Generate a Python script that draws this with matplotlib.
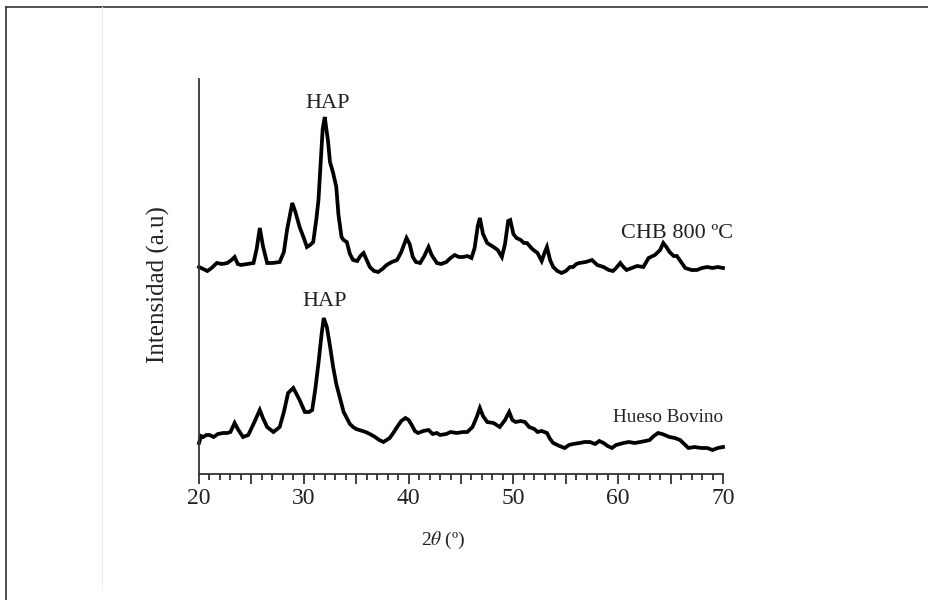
import matplotlib
matplotlib.use('Agg')
import matplotlib.pyplot as plt
from matplotlib.lines import Line2D
from matplotlib.ticker import MultipleLocator, FuncFormatter

plt.rcParams['font.family'] = ['Liberation Serif', 'DejaVu Serif']
plt.rcParams['mathtext.fontset'] = 'stix'

# CHB 800 ºC (curva superior)
chb_x = [20.0, 20.4, 20.8, 21.2, 21.7, 22.2, 22.7, 23.1, 23.4, 23.7, 24.0, 24.6,
         25.2, 25.5, 25.8, 26.1, 26.5, 27.0, 27.7, 28.1, 28.4, 28.9, 29.2, 29.6,
         30.0, 30.3, 30.6, 30.9, 31.2, 31.4, 31.6, 31.8, 32.0, 32.15, 32.3, 32.5,
         32.8, 33.1, 33.3, 33.6, 33.8, 34.1, 34.4, 34.7, 35.1, 35.4, 35.7, 36.0,
         36.3, 36.7, 37.1, 37.5, 37.9, 38.4, 38.9, 39.3, 39.8, 40.1, 40.4, 40.7,
         41.1, 41.5, 41.9, 42.2, 42.7, 43.1, 43.6, 44.0, 44.4, 44.8, 45.2, 45.6,
         46.0, 46.3, 46.6, 46.8, 47.1, 47.5, 47.8, 48.1, 48.5, 48.9, 49.2, 49.5,
         49.7, 50.0, 50.3, 50.7, 51.0, 51.3, 51.8, 52.3, 52.7, 53.0, 53.2, 53.5,
         53.8, 54.2, 54.6, 55.0, 55.4, 55.7, 56.0, 56.3, 56.9, 57.5, 58.0, 58.6,
         59.1, 59.5, 59.8, 60.2, 60.5, 60.8, 61.3, 61.8, 62.4, 62.9, 63.5, 64.0,
         64.3, 64.6, 64.9, 65.3, 65.6, 66.0, 66.4, 67.0, 67.5, 68.0, 68.5, 69.0,
         69.5, 70.0]
chb_y = [207, 205, 203, 206, 211, 210, 211, 214, 217, 210, 209, 210,
         211, 225, 246, 228, 211, 211, 212, 222, 244, 271, 262, 247,
         236, 227, 229, 232, 255, 274, 310, 345, 357, 345, 334, 312,
         301, 287, 260, 237, 234, 232, 220, 214, 213, 218, 221, 214,
         207, 203, 202, 205, 209, 212, 214, 222, 236, 230, 217, 212,
         211, 218, 227, 219, 211, 210, 212, 216, 219, 217, 217, 218,
         216, 226, 248, 256, 240, 231, 229, 227, 224, 217, 230, 253,
         254, 240, 236, 234, 231, 231, 225, 221, 213, 222, 227, 214,
         207, 203, 201, 203, 207, 207, 210, 211, 212, 214, 209, 207,
         204, 203, 206, 211, 207, 204, 206, 208, 207, 216, 219, 224,
         231, 227, 222, 218, 218, 212, 206, 204, 204, 206, 207, 206,
         207, 206]

# Hueso Bovino (curva inferior)
hb_x = [20.0, 20.2, 20.4, 20.7, 21.0, 21.4, 21.8, 22.3, 22.7, 23.0, 23.4, 23.7,
        24.2, 24.7, 25.2, 25.8, 26.1, 26.5, 27.1, 27.7, 28.1, 28.5, 29.0, 29.3,
        29.6, 30.1, 30.5, 30.8, 31.1, 31.4, 31.7, 31.9, 32.2, 32.5, 32.8, 33.1,
        33.5, 33.8, 34.1, 34.4, 34.7, 35.0, 35.3, 35.9, 36.3, 36.8, 37.2, 37.6,
        38.2, 38.6, 38.9, 39.3, 39.7, 40.0, 40.3, 40.6, 40.9, 41.4, 41.9, 42.3,
        42.7, 43.0, 43.6, 44.0, 44.6, 45.2, 45.6, 46.1, 46.5, 46.8, 47.1, 47.5,
        48.1, 48.7, 49.2, 49.6, 49.9, 50.2, 50.7, 51.1, 51.5, 52.0, 52.3, 52.7,
        53.2, 53.5, 53.8, 54.4, 54.9, 55.3, 55.7, 56.3, 56.8, 57.3, 57.8, 58.2,
        58.6, 59.0, 59.4, 59.8, 60.5, 61.0, 61.6, 62.1, 62.6, 63.0, 63.4, 63.8,
        64.2, 64.9, 65.4, 65.9, 66.3, 66.7, 67.3, 67.9, 68.5, 69.0, 69.5, 70.0]
hb_y = [31, 38, 37, 39, 39, 37, 40, 41, 41, 42, 51, 45,
        37, 39, 50, 64, 56, 47, 42, 47, 62, 81, 86, 80,
        74, 62, 62, 64, 85, 111, 140, 156, 147, 128, 107, 90,
        74, 62, 56, 50, 47, 45, 44, 42, 40, 37, 34, 32,
        36, 42, 47, 53, 56, 54, 49, 43, 41, 43, 44, 40,
        41, 39, 40, 42, 41, 42, 42, 47, 57, 66, 58, 52,
        51, 47, 54, 62, 54, 52, 53, 52, 47, 45, 42, 43,
        41, 35, 31, 28, 26, 29, 30, 31, 32, 32, 30, 33,
        31, 28, 26, 29, 31, 32, 31, 32, 33, 34, 38, 41,
        40, 37, 36, 34, 30, 26, 27, 26, 26, 24, 26, 27]

fig = plt.figure(figsize=(9.29, 6), dpi=100)
ax = fig.add_axes([199 / 929, 126 / 600, 524 / 929, 395 / 600])

ax.plot(chb_x, chb_y, color='black', lw=2.7, clip_on=False, solid_joinstyle='miter')
ax.plot(hb_x, hb_y, color='black', lw=2.7, clip_on=False, solid_joinstyle='miter')

ax.set_xlim(20, 70)
ax.set_ylim(0, 395)

# etiquetas
ax.text(32.3, 370, 'HAP', ha='center', va='center', fontsize=16, color='#222222')
ax.text(32.0, 172, 'HAP', ha='center', va='center', fontsize=16, color='#222222')
ax.text(65.6, 240, 'CHB 800 ºC', ha='center', va='center', fontsize=16, color='#222222')
ax.text(64.8, 57, 'Hueso Bovino', ha='center', va='center', fontsize=13.8, color='#222222')

for s in ['top', 'right']:
    ax.spines[s].set_visible(False)
for s in ['left', 'bottom']:
    ax.spines[s].set_color('#333333')
    ax.spines[s].set_linewidth(1.3)

ax.set_yticks([])
ax.xaxis.set_major_locator(MultipleLocator(5))
ax.xaxis.set_minor_locator(MultipleLocator(1))
ax.xaxis.set_major_formatter(FuncFormatter(lambda v, p: f'{int(v)}' if v % 10 == 0 else ''))
ax.tick_params(axis='x', which='major', length=7, width=1.3, color='#333333',
               labelsize=17, pad=3, labelcolor='#222222')
ax.tick_params(axis='x', which='minor', length=4.5, width=1.3, color='#333333')

ax.set_ylabel('Intensidad (a.u)', fontsize=18, color='#222222')
ax.yaxis.set_label_coords(-0.056, 0.48)
fig.text(443 / 929, 1 - 540 / 600, '2$\\theta$ (º)', ha='center', va='center',
         fontsize=14, color='#222222')

# marco de la figura
fig.add_artist(Line2D([6 / 929, 1], [1 - 7 / 600, 1 - 7 / 600], color='#333333', lw=1.2))
fig.add_artist(Line2D([6 / 929, 6 / 929], [0, 1 - 7 / 600], color='#333333', lw=1.2))
fig.add_artist(Line2D([102 / 929, 102 / 929], [10 / 600, 1 - 7 / 600], color='#eeeeee', lw=0.8))

fig.savefig('out.png', dpi=100)
